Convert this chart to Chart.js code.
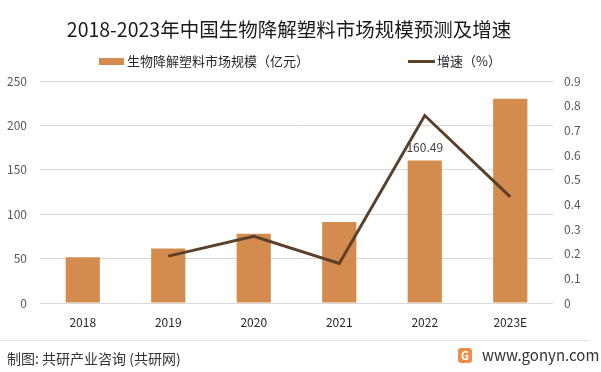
<!DOCTYPE html>
<html>
<head>
<meta charset="utf-8">
<script src="https://cdn.jsdelivr.net/npm/chart.js@4.4.0/dist/chart.umd.min.js"></script>
<style>
  html, body { margin: 0; padding: 0; background: #fff; }
  #wrap { position: relative; width: 601px; height: 372px; overflow: hidden;
          font-family: "Noto Sans CJK SC", "Noto Sans", sans-serif; color: #262626; }
  #chart { position: absolute; left: 0; top: 0; }
  .title { position: absolute; left: 0; width: 578px; top: 16px; text-align: center;
           font-size: 19.5px; line-height: 26px; color: #1a1a1a; }
  .legend { position: absolute; top: 52px; font-size: 13px; line-height: 18px; color: #262626; }
  .legend span.sw { position: absolute; }
  .foot-line { position: absolute; left: 0; width: 590px; top: 340px; height: 1px; background: #e3e3e3; }
  .foot { position: absolute; left: 7px; top: 348px; font-size: 14px; line-height: 20px; color: #333; }
  .site { position: absolute; left: 482px; top: 345px; font-size: 15px; line-height: 20px; color: #333; }
  .logo { position: absolute; left: 458px; top: 348px; width: 14px; height: 15px; border-radius: 3px;
          background: #f08c4a; color: #fff; font-size: 11px; line-height: 15px; text-align: center; font-weight: bold; }
</style>
</head>
<body>
<div id="wrap">
  <canvas id="chart" width="601" height="372"></canvas>
  <div class="title">2018-2023年中国生物降解塑料市场规模预测及增速</div>
  <div id="legend"></div>
  <div class="foot-line"></div>
  <div class="foot">制图: 共研产业咨询 (共研网)</div>
  <div class="logo">G</div>
  <div class="site">www.gonyn.com</div>
</div>
<script>
(function() {
    'use strict';

    // ==========================================
    // DATA
    // ==========================================
    var years = ['2018', '2019', '2020', '2021', '2022', '2023E'];
    var marketSize = [51.5, 61.4, 78, 91.1, 160.49, 230];   // 亿元
    var growthRate = [null, 0.19, 0.27, 0.16, 0.76, 0.43];  // 增速
    var leftTicks = [0, 50, 100, 150, 200, 250];
    var rightTicks = [0, 0.1, 0.2, 0.3, 0.4, 0.5, 0.6, 0.7, 0.8, 0.9];
    var labelledIndex = 4; // only 2022 carries a value label

    var barLabel = '生物降解塑料市场规模（亿元）';
    var lineLabel = '增速（%）';
    var barColor = '#d48b4e';
    var lineColor = '#5b402b';
    var tickFont = { family: '"Noto Sans CJK SC", "Noto Sans", sans-serif', size: 12 };

    // ==========================================
    // LEGEND (html)
    // ==========================================
    var legend = document.getElementById('legend');
    legend.innerHTML =
        '<div class="legend" style="left:99px"><span class="sw" style="left:0;top:6px;width:25px;height:7px;background:' + barColor + '"></span>' +
        '<span style="margin-left:28px">' + barLabel + '</span></div>' +
        '<div class="legend" style="left:408px"><span class="sw" style="left:0;top:8px;width:27px;height:3px;background:' + lineColor + '"></span>' +
        '<span style="margin-left:29px">' + lineLabel + '</span></div>';

    // ==========================================
    // VALUE LABEL PLUGIN
    // ==========================================
    var valueLabel = {
        id: 'valueLabel',
        afterDatasetsDraw: function(chart) {
            var meta = chart.getDatasetMeta(0);
            var bar = meta.data[labelledIndex];
            if (!bar) return;
            var ctx = chart.ctx;
            ctx.save();
            ctx.font = '12px ' + tickFont.family;
            ctx.fillStyle = '#404040';
            ctx.textAlign = 'center';
            ctx.textBaseline = 'middle';
            ctx.fillText(String(marketSize[labelledIndex]), bar.x, bar.y - 13);
            ctx.restore();
        }
    };

    new Chart(document.getElementById('chart'), {
        data: {
            labels: years,
            datasets: [{
                type: 'bar',
                label: barLabel,
                data: marketSize,
                backgroundColor: barColor,
                yAxisID: 'y',
                barPercentage: 0.5,
                categoryPercentage: 0.8,
                order: 2
            }, {
                type: 'line',
                label: lineLabel,
                data: growthRate,
                borderColor: lineColor,
                backgroundColor: lineColor,
                borderWidth: 3,
                pointRadius: 0,
                tension: 0,
                yAxisID: 'y1',
                order: 1
            }]
        },
        options: {
            responsive: false,
            animation: false,
            layout: { padding: { top: 81, left: 0, right: 0, bottom: 0 } },
            plugins: {
                legend: { display: false },
                title: { display: false },
                tooltip: { enabled: false }
            },
            scales: {
                x: {
                    grid: { display: false, drawTicks: false },
                    border: { display: false },
                    ticks: { color: '#262626', font: tickFont, padding: 12, maxRotation: 0 },
                    afterFit: function(s) { s.height = 69; }
                },
                y: {
                    position: 'left',
                    min: 0, max: 250,
                    afterBuildTicks: function(s) { s.ticks = leftTicks.map(function(v) { return { value: v }; }); },
                    grid: { color: '#d9d9d9', lineWidth: 1, drawTicks: false },
                    border: { display: false },
                    ticks: { color: '#595959', font: tickFont, padding: 13 },
                    afterFit: function(s) { s.width = 40; }
                },
                y1: {
                    position: 'right',
                    min: 0, max: 0.9,
                    afterBuildTicks: function(s) { s.ticks = rightTicks.map(function(v) { return { value: v }; }); },
                    grid: { display: false, drawTicks: false },
                    border: { display: false },
                    ticks: { color: '#595959', font: tickFont, padding: 11,
                             callback: function(v) { return String(Math.round(v * 10) / 10); } },
                    afterFit: function(s) { s.width = 48; }
                }
            }
        },
        plugins: [valueLabel]
    });
})();
</script>
</body>
</html>
